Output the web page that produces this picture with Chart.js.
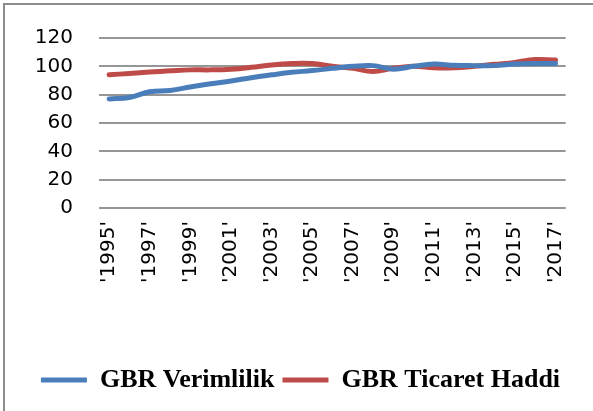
<!DOCTYPE html>
<html>

<head>
    <meta charset="utf-8">
    <title>GBR Verimlilik / Ticaret Haddi</title>
    <script src="https://cdn.jsdelivr.net/npm/chart.js@4.4.0/dist/chart.umd.min.js"></script>
    <style>
        html, body {
            margin: 0;
            padding: 0;
            overflow: hidden;
            background: #fff;
        }

        #frame {
            position: absolute;
            left: 3px;
            top: 3px;
            width: 700px;
            height: 500px;
            border-top: 2px solid #8c8c8c;
            border-left: 2px solid #8c8c8c;
        }

        #box {
            position: absolute;
            left: 0;
            top: 0;
            width: 593px;
            height: 411px;
        }
    </style>
</head>

<body>
    <div id="frame"></div>
    <div id="box">
        <canvas id="canvas"></canvas>
    </div>
    <script>
        // years on the category axis
        const years = ['1995', '1996', '1997', '1998', '1999', '2000', '2001', '2002', '2003', '2004', '2005', '2006',
            '2007', '2008', '2009', '2010', '2011', '2012', '2013', '2014', '2015', '2016', '2017'];

        // series
        const verimlilik = [77, 78, 82, 83, 85.4, 87.7, 89.6, 92, 94, 95.8, 97, 98.6,
            100, 100.5, 98, 100, 101.6, 100.7, 100.5, 100.5, 101.6, 102, 102];
        const ticaretHaddi = [94, 95, 96, 96.8, 97.5, 97.5, 98, 99.3, 101, 102, 102, 100,
            98.6, 96.3, 98.6, 100, 99, 99, 100, 101.4, 102.8, 104.8, 104.4];

        const seriesNames = ['GBR Verimlilik', 'GBR Ticaret Haddi'];
        const yTicks = [0, 20, 40, 60, 80, 100, 120];

        const labels = years.map(y => "'" + y + "'");

        var chartObject = document.getElementById('canvas');
        var chart = new Chart(chartObject, {
            type: 'line',
            data: {
                labels: labels,
                datasets: [{
                    label: seriesNames[0],
                    data: verimlilik,
                    borderColor: '#4a7ebb',
                    backgroundColor: '#4a7ebb',
                    borderWidth: 5,
                    borderCapStyle: 'round',
                    pointRadius: 0,
                    tension: 0.4
                }, {
                    label: seriesNames[1],
                    data: ticaretHaddi,
                    borderColor: '#be4b48',
                    backgroundColor: '#be4b48',
                    borderWidth: 5,
                    borderCapStyle: 'round',
                    pointRadius: 0,
                    tension: 0.4
                }]
            },
            options: {
                responsive: true,
                maintainAspectRatio: false,
                animation: false,
                layout: {
                    padding: { top: 30, right: 22, bottom: 8, left: 30 }
                },
                plugins: {
                    tooltip: { enabled: false },
                    legend: {
                        position: 'bottom',
                        labels: {
                            usePointStyle: true,
                            pointStyle: 'line',
                            pointStyleWidth: 46,
                            padding: 8,
                            color: '#000',
                            font: { family: 'Liberation Serif', size: 26, weight: 'bold' }
                        }
                    }
                },
                scales: {
                    x: {
                        offset: true,
                        grid: { display: false, drawTicks: false },
                        border: { display: false },
                        ticks: {
                            autoSkip: false,
                            minRotation: 90,
                            maxRotation: 90,
                            padding: 13,
                            color: '#000',
                            font: { family: 'DejaVu Sans', size: 20 },
                            callback: function (v, i) {
                                return i % 2 === 0 ? this.getLabelForValue(v) : '';
                            }
                        },
                        afterFit: function (scale) { scale.height = 151; }
                    },
                    y: {
                        min: yTicks[0],
                        max: yTicks[yTicks.length - 1],
                        grid: { color: '#969696', lineWidth: 2, drawTicks: false },
                        border: { display: false },
                        afterBuildTicks: function (scale) {
                            scale.ticks = yTicks.map(v => ({ value: v }));
                        },
                        ticks: {
                            autoSkip: false,
                            padding: 26,
                            color: '#000',
                            font: { family: 'DejaVu Sans', size: 20 }
                        },
                        afterFit: function (scale) { scale.width = 69; }
                    }
                }
            }
        });
    </script>
</body>

</html>
